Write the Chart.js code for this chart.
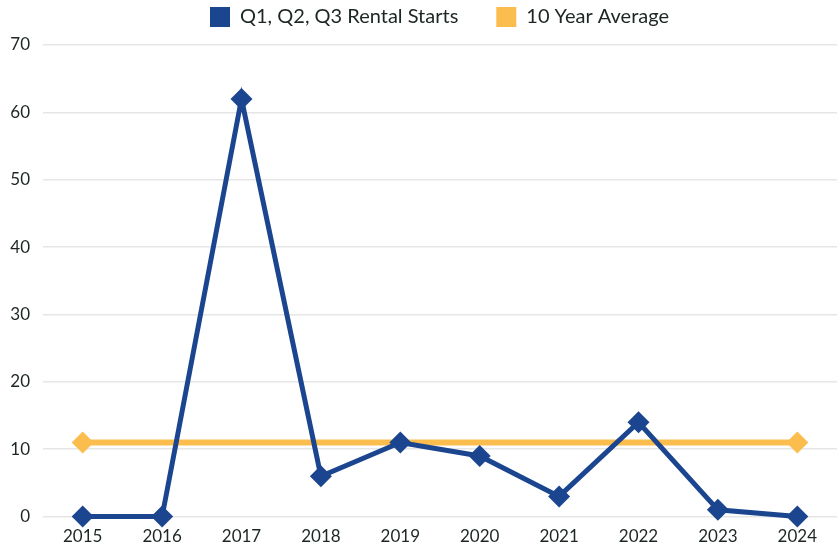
<!DOCTYPE html>
<html>
<head>
<meta charset="utf-8">
<script src="https://cdn.jsdelivr.net/npm/chart.js@4/dist/chart.umd.min.js"></script>
<style>
    html, body { margin: 0; padding: 0; background: #ffffff; }
    #wrap { width: 837px; height: 551px; }
</style>
</head>
<body>
<div id="wrap"><canvas id="chart" width="837" height="551"></canvas></div>
<script>
    const years = ['2015', '2016', '2017', '2018', '2019', '2020', '2021', '2022', '2023', '2024'];
    const rentalStarts = [0, 0, 62, 6, 11, 9, 3, 14, 1, 0];
    const tenYearAverage = [11, 11, 11, 11, 11, 11, 11, 11, 11, 11];

    const blue = '#1c4590';
    const gold = '#fbbd4e';
    const textColor = '#1c2623';

    // only the two ends of the average line carry a marker
    const avgRadius = tenYearAverage.map((v, i) => (i === 0 || i === tenYearAverage.length - 1 ? 11 : 0));

    // wide gap between legend items, legend centred over the plot and close to the top
    const legendGap = {
        id: 'legendGap',
        beforeInit(chart) {
            const fit = chart.legend.fit;
            chart.legend.fit = function () {
                fit.call(this);
                this.height = 45;
            };
        },
        afterLayout(chart) {
            chart.legend.top -= 31;
            chart.legend.left += 21;
            chart.legend.right += 21;
        },
    };

    new Chart(document.getElementById('chart').getContext('2d'), {
        type: 'line',
        data: {
            labels: years,
            datasets: [
                {
                    label: 'Q1, Q2, Q3 Rental Starts',
                    data: rentalStarts,
                    borderColor: blue,
                    backgroundColor: blue,
                    borderWidth: 5,
                    pointStyle: 'rectRot',
                    pointRadius: 11,
                    pointBackgroundColor: blue,
                    pointBorderWidth: 0,
                    tension: 0,
                    clip: false,
                    order: 1,
                },
                {
                    label: '10 Year Average',
                    data: tenYearAverage,
                    borderColor: gold,
                    backgroundColor: gold,
                    borderWidth: 6,
                    pointStyle: 'rectRot',
                    pointRadius: avgRadius,
                    pointBackgroundColor: gold,
                    pointBorderWidth: 0,
                    clip: false,
                    order: 2,
                },
            ],
        },
        options: {
            responsive: false,
            animation: false,
            layout: { autoPadding: false, padding: { left: 0, right: 0, top: 0, bottom: 2 } },
            plugins: {
                legend: {
                    position: 'top',
                    labels: {
                        color: textColor,
                        font: { family: 'Lato', size: 20 },
                        boxWidth: 20,
                        boxHeight: 20,
                        padding: 38,
                        generateLabels(chart) {
                            return chart.data.datasets.map((ds, i) => ({
                                text: ds.label,
                                fillStyle: ds.borderColor,
                                strokeStyle: ds.borderColor,
                                lineWidth: 0,
                                datasetIndex: i,
                                fontColor: textColor,
                            }));
                        },
                    },
                },
                tooltip: { enabled: false },
            },
            scales: {
                x: {
                    offset: true,
                    grid: { display: false },
                    border: { display: false },
                    afterFit(scale) {
                        scale.paddingRight = 0;
                        scale.paddingLeft = 0;
                    },
                    ticks: {
                        color: textColor,
                        font: { family: 'Lato', size: 17 },
                        padding: 2,
                        maxRotation: 0,
                    },
                },
                y: {
                    min: 0,
                    max: 70,
                    afterFit(scale) {
                        scale.width = 43;
                    },
                    grid: { color: '#e6e6e6', lineWidth: 1.5, drawTicks: false },
                    border: { display: false },
                    ticks: {
                        stepSize: 10,
                        color: textColor,
                        font: { family: 'Lato', size: 17 },
                        padding: 13,
                    },
                },
            },
        },
        plugins: [legendGap],
    });
</script>
</body>
</html>
